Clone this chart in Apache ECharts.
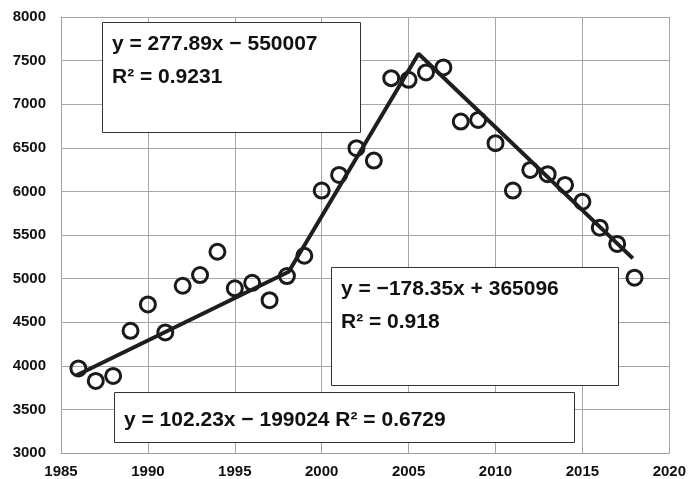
<!DOCTYPE html>
<html>
<head>
<meta charset="utf-8">
<script src="https://cdn.jsdelivr.net/npm/echarts@6/dist/echarts.min.js"></script>
<style>html,body{margin:0;padding:0;background:#fff}#c{width:689px;height:479px}</style>
</head>
<body>
<div id="c"></div>
<script>
var years = [1986,1987,1988,1989,1990,1991,1992,1993,1994,1995,1996,1997,1998,1999,2000,2001,2002,2003,2004,2005,2006,2007,2008,2009,2010,2011,2012,2013,2014,2015,2016,2017,2018];
var values = [3970,3827,3884,4401,4704,4383,4918,5041,5308,4888,4952,4753,5029,5262,6009,6189,6496,6353,7299,7280,7364,7421,6801,6820,6553,6009,6246,6197,6074,5882,5584,5397,5010];
var trendX = [1985.9,1998.1,2005.57,2017.9];
var trendY = [3892,5078,7578,5232];
var xTicks = {min:1985, max:2020, interval:5};
var yTicks = {min:3000, max:8000, interval:500};
var box1Text = 'y = 277.89x − 550007\nR² = 0.9231';
var box2Text = 'y = −178.35x + 365096\nR² = 0.918';
var box3Text = 'y = 102.23x − 199024 R² = 0.6729';

var chart = echarts.init(document.getElementById('c'));
var font = '"Liberation Sans", Arial, sans-serif';
function box(x, y, w, h, txt, tx, ty) {
  return [
    {type:'rect', z:100, shape:{x:x+0.5, y:y+0.5, width:w, height:h}, style:{fill:'#fff', stroke:'#333', lineWidth:1}},
    {type:'text', z:101, x:tx, y:ty, style:{text:txt, font:'bold 21px ' + font, fill:'#111', lineHeight:33, verticalAlign:'top'}}
  ];
}
function plain(v){ return String(v); }
chart.setOption({
  animation: false,
  backgroundColor: '#fff',
  grid: {left:61, right:18, top:17, bottom:26, containLabel:false},
  xAxis: {
    type:'value', min:xTicks.min, max:xTicks.max, interval:xTicks.interval,
    axisLine:{show:true, lineStyle:{color:'#a0a0a0', width:1}},
    axisTick:{show:false},
    axisLabel:{color:'#111', fontWeight:'bold', fontSize:15, fontFamily:font, margin:11, formatter:plain},
    splitLine:{show:true, lineStyle:{color:'#a6a6a6', width:1}}
  },
  yAxis: {
    type:'value', min:yTicks.min, max:yTicks.max, interval:yTicks.interval,
    axisLine:{show:true, lineStyle:{color:'#a0a0a0', width:1}},
    axisTick:{show:false},
    axisLabel:{color:'#111', fontWeight:'bold', fontSize:15, fontFamily:font, margin:15, formatter:plain},
    splitLine:{show:true, lineStyle:{color:'#a6a6a6', width:1}}
  },
  series: [
    {
      type:'scatter', symbol:'circle', symbolSize:15,
      itemStyle:{color:'rgba(0,0,0,0)', borderColor:'#1a1a1a', borderWidth:3, opacity:1},
      data: years.map(function(y,i){return [y, values[i]];}),
      z: 2
    },
    {
      type:'line', showSymbol:false, symbol:'none',
      lineStyle:{color:'#1e1e1e', width:4},
      data: trendX.map(function(x,i){return [x, trendY[i]];}),
      z: 3
    }
  ],
  graphic: [].concat(
    box(102, 22, 258, 110, box1Text, 112, 28),
    box(331, 267, 287, 118, box2Text, 341, 273),
    box(114, 392, 460, 50, box3Text, 124, 404)
  )
});
</script>
</body>
</html>
